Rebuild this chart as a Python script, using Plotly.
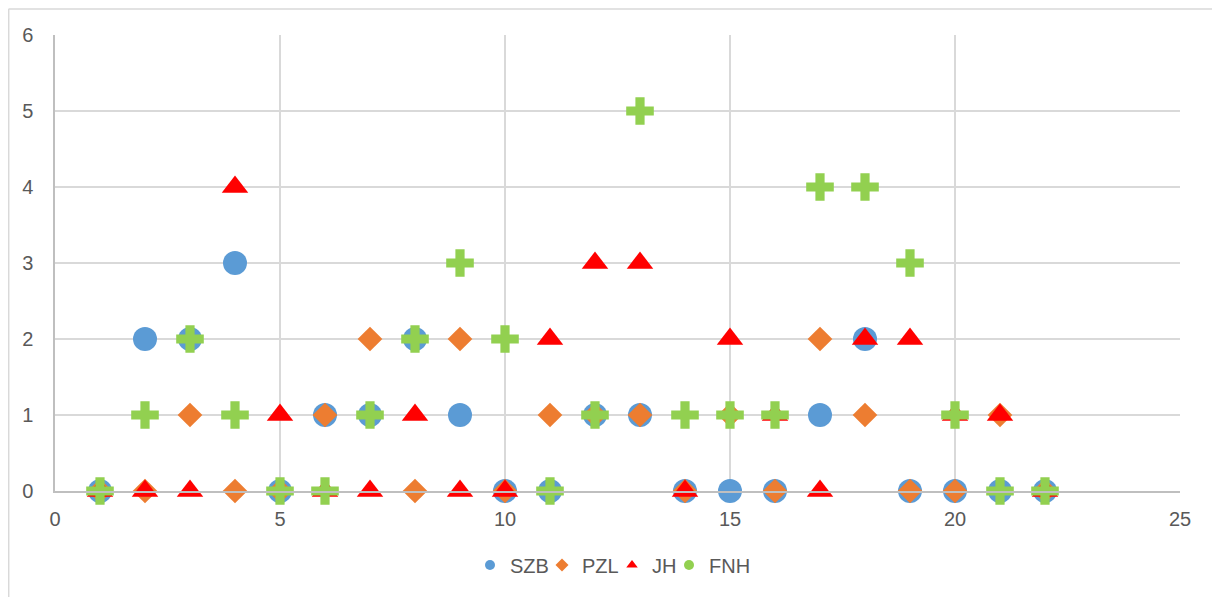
import plotly.graph_objects as go

x_vals = list(range(1, 23))
szb = [0, 2, 2, 3, 0, 1, 1, 2, 1, 0, 0, 1, 1, 0, 0, 0, 1, 2, 0, 0, 0, 0]
pzl = [0, 0, 1, 0, 0, 1, 2, 0, 2, 0, 1, 1, 1, 0, 1, 0, 2, 1, 0, 0, 1, 0]
jh = [0, 0, 0, 4, 1, 0, 0, 1, 0, 0, 2, 3, 3, 0, 2, 1, 0, 2, 2, 1, 1, 0]
fnh = [0, 1, 2, 1, 0, 0, 1, 2, 3, 2, 0, 1, 5, 1, 1, 1, 4, 4, 3, 1, 0, 0]

series = [
    ("SZB", szb, "#5B9BD5", "circle", 24, "circle"),
    ("PZL", pzl, "#ED7D31", "diamond", 19, "diamond"),
    ("JH", jh, "#FF0000", "triangle-up", 23, "triangle-up"),
    ("FNH", fnh, "#92D050", "cross", 23, "circle"),
]
legend_ids = ["legend", "legend2", "legend3", "legend4"]
legend_left_px = [470, 542, 612, 669]

fig = go.Figure()
for name, vals, color, sym, size, legsym in series:
    fig.add_trace(go.Scatter(
        x=x_vals, y=vals, mode="markers", name=name, legendgroup=name,
        showlegend=False, cliponaxis=False,
        marker=dict(symbol=sym, size=size, color=color, line=dict(width=0)),
    ))
for (name, vals, color, sym, size, legsym), lid in zip(series, legend_ids):
    fig.add_trace(go.Scatter(
        x=[None], y=[None], mode="markers", name=name, legendgroup=name,
        showlegend=True, legend=lid,
        marker=dict(symbol=legsym, size=10, color=color, line=dict(width=0)),
    ))

# page body has an 8px offset; figure coords = window coords - 8
OFF = 8
W, H = 1220 - OFF, 597 - OFF
L, T = 55 - OFF, 35 - OFF
R = W - (1180 - OFF)
B = H - (491 - OFF)
pw, ph = W - L - R, H - T - B

def px_x(p):
    return (p - OFF - L) / pw

def px_y(p):
    return (H - B - (p - OFF)) / ph

font_col = "#595959"
legends = {}
for lid, lx in zip(legend_ids, legend_left_px):
    legends[lid] = dict(
        orientation="h", x=px_x(lx), xanchor="left", y=px_y(565), yanchor="middle",
        font=dict(size=20, color=font_col), itemwidth=30,
        bgcolor="rgba(0,0,0,0)",
    )

fig.update_layout(
    width=W, height=H,
    margin=dict(l=L, r=R, t=T, b=B),
    paper_bgcolor="white", plot_bgcolor="white",
    font=dict(family="Liberation Sans, Arial, sans-serif", size=20, color=font_col),
    xaxis=dict(
        range=[0, 25], dtick=5, tick0=0,
        showgrid=True, gridcolor="#D9D9D9", gridwidth=1.5,
        zeroline=False, showline=True, linecolor="#BFBFBF", linewidth=1.5,
        ticks="outside", ticklen=9, tickcolor="rgba(0,0,0,0)",
        tickfont=dict(size=20, color=font_col),
    ),
    yaxis=dict(
        range=[0, 6], dtick=1, tick0=0,
        showgrid=True, gridcolor="#D9D9D9", gridwidth=1.5,
        zeroline=False, showline=True, linecolor="#BFBFBF", linewidth=1.5,
        ticks="outside", ticklen=16, tickcolor="rgba(0,0,0,0)",
        tickfont=dict(size=20, color=font_col),
    ),
    shapes=[
        dict(type="line", xref="paper", yref="paper",
             x0=px_x(8.5), x1=px_x(1240), y0=px_y(9), y1=px_y(9),
             line=dict(color="#D9D9D9", width=1.5)),
        dict(type="line", xref="paper", yref="paper",
             x0=px_x(8.7), x1=px_x(8.7), y0=px_y(9), y1=px_y(620),
             line=dict(color="#D9D9D9", width=1.5)),
    ],
    **legends,
)

fig.write_html("out.html")
